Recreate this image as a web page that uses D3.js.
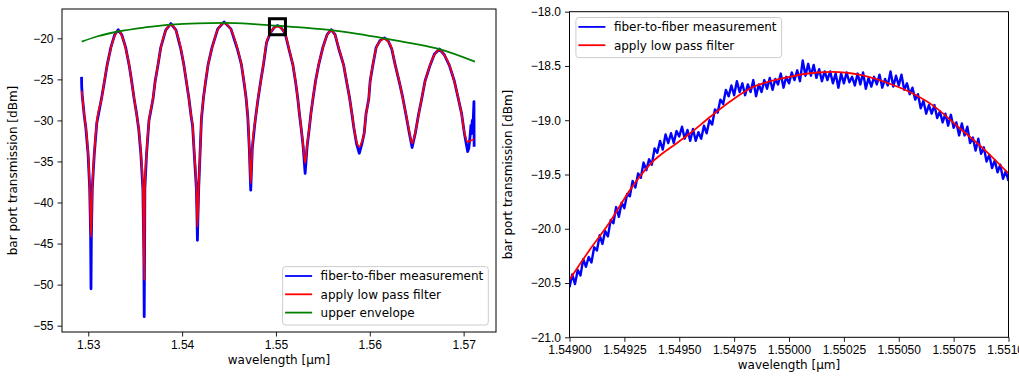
<!DOCTYPE html>
<html>
<head>
<meta charset="utf-8">
<script src="https://cdn.jsdelivr.net/npm/d3@7"></script>
<style>
  body { margin: 0; background: #fff; }
  svg { display: block; font-family: "DejaVu Sans", sans-serif; }
  .tick text { font-size: 12px; fill: #000; }
  .tick line { stroke: #000; stroke-width: 0.9; }
  .label { font-size: 12px; fill: #000; }
</style>
</head>
<body>
<svg id="chart" width="1019" height="377"></svg>
<script>
// left panel: full sweep, [wavelength um, dBm]
const measLeft = [
  [1.52928,-24.7],[1.52930,-25.9],[1.52936,-27.0],[1.52957,-29.4],[1.52974,-30.9],[1.52998,-34.1],[1.53015,-38.3],
  [1.53025,-44.0],[1.53029,-50.5],[1.53033,-44.0],[1.53043,-38.2],[1.53064,-34.1],[1.53091,-30.3],[1.53143,-27.2],
  [1.53170,-25.4],[1.53202,-23.2],[1.53241,-21.1],[1.53280,-19.6],[1.53319,-18.95],[1.53358,-19.6],[1.53398,-21.1],
  [1.53436,-23.3],[1.53462,-25.2],[1.53489,-27.4],[1.53515,-29.2],[1.53538,-31.1],[1.53561,-34.2],[1.53582,-38.4],
  [1.53592,-46.0],[1.53596,-53.9],[1.53600,-46.0],[1.53603,-38.3],[1.53621,-34.1],[1.53647,-30.0],[1.53690,-27.4],
  [1.53713,-25.2],[1.53742,-23.3],[1.53773,-21.1],[1.53825,-19.0],[1.53880,-18.2],[1.53935,-19.0],[1.53986,-21.3],
  [1.54018,-23.2],[1.54047,-25.4],[1.54071,-27.2],[1.54095,-29.4],[1.54112,-30.7],[1.54130,-34.2],[1.54152,-38.3],
  [1.54160,-42.5],[1.54163,-44.6],[1.54167,-42.5],[1.54177,-38.2],[1.54191,-34.1],[1.54206,-29.8],[1.54228,-27.2],
  [1.54249,-25.4],[1.54277,-23.2],[1.54319,-21.1],[1.54380,-18.85],[1.54447,-18.0],[1.54520,-18.85],[1.54589,-21.3],
  [1.54632,-23.2],[1.54660,-25.4],[1.54681,-27.2],[1.54700,-29.6],[1.54716,-33.4],[1.54731,-38.5],[1.54748,-33.4],
  [1.54774,-30.5],[1.54788,-29.2],[1.54809,-27.4],[1.54838,-25.2],[1.54868,-23.1],[1.54900,-20.5],[1.54940,-19.35],
  [1.54980,-18.7],[1.55015,-18.45],[1.55050,-18.65],[1.55080,-19.1],[1.55100,-19.5],[1.55138,-21.3],[1.55180,-23.2],
  [1.55210,-25.4],[1.55231,-27.2],[1.55252,-29.4],[1.55270,-31.1],[1.55290,-33.2],[1.55311,-36.45],[1.55332,-33.2],
  [1.55359,-30.6],[1.55372,-29.2],[1.55394,-27.4],[1.55422,-25.2],[1.55454,-23.3],[1.55500,-21.1],[1.55545,-19.55],
  [1.55589,-18.95],[1.55630,-19.55],[1.55670,-21.3],[1.55720,-23.2],[1.55755,-25.4],[1.55784,-27.2],[1.55812,-29.4],
  [1.55830,-30.9],[1.55860,-32.9],[1.55888,-34.0],[1.55915,-32.9],[1.55940,-31.6],[1.55960,-29.2],[1.55989,-27.4],
  [1.56004,-25.2],[1.56032,-23.3],[1.56068,-21.1],[1.56110,-20.25],[1.56156,-19.95],[1.56195,-20.3],[1.56234,-21.3],
  [1.56270,-23.2],[1.56316,-25.4],[1.56351,-27.2],[1.56387,-29.4],[1.56422,-31.6],[1.56451,-33.3],[1.56486,-31.5],
  [1.56521,-29.2],[1.56553,-27.4],[1.56589,-25.2],[1.56642,-23.3],[1.56688,-21.95],[1.56742,-21.3],[1.56794,-22.0],
  [1.56848,-23.3],[1.56901,-25.2],[1.56944,-27.4],[1.56979,-29.2],[1.57007,-31.5],[1.57043,-33.8],[1.57055,-33.4],
  [1.57068,-32.0],[1.57078,-30.6],[1.57085,-31.6],[1.57092,-30.0],[1.57098,-31.2],[1.57104,-29.5],[1.57110,-27.7],
  [1.57112,-33.2]
];

const filterLeft = [
  [1.52930,-26.4],[1.52957,-29.3],[1.52974,-30.8],[1.52998,-34.0],[1.53015,-38.1],[1.53029,-44.2],[1.53043,-38.1],
  [1.53064,-34.0],[1.53091,-30.2],[1.53143,-27.3],[1.53170,-25.3],[1.53202,-23.25],[1.53241,-21.2],[1.53280,-19.75],
  [1.53319,-19.1],[1.53358,-19.7],[1.53398,-21.2],[1.53436,-23.25],[1.53462,-25.3],[1.53489,-27.3],[1.53515,-29.3],
  [1.53538,-31.0],[1.53561,-34.0],[1.53582,-38.1],[1.53596,-49.4],[1.53603,-38.1],[1.53621,-34.0],[1.53647,-30.1],
  [1.53690,-27.3],[1.53713,-25.3],[1.53742,-23.25],[1.53773,-21.2],[1.53825,-19.1],[1.53880,-18.38],[1.53935,-19.1],
  [1.53986,-21.2],[1.54018,-23.25],[1.54047,-25.3],[1.54071,-27.3],[1.54095,-29.3],[1.54112,-30.6],[1.54130,-34.0],
  [1.54152,-38.1],[1.54163,-42.95],[1.54177,-38.1],[1.54191,-34.0],[1.54206,-29.7],[1.54228,-27.3],[1.54249,-25.3],
  [1.54277,-23.25],[1.54319,-21.2],[1.54380,-18.95],[1.54447,-18.17],[1.54520,-18.95],[1.54589,-21.2],[1.54632,-23.25],
  [1.54660,-25.3],[1.54681,-27.3],[1.54700,-29.5],[1.54716,-33.2],[1.54731,-37.65],[1.54748,-33.2],[1.54774,-30.4],
  [1.54788,-29.3],[1.54809,-27.3],[1.54838,-25.3],[1.54868,-23.0],[1.54900,-20.5],[1.54940,-19.4],[1.54980,-18.72],
  [1.55015,-18.56],[1.55050,-18.70],[1.55080,-19.08],[1.55100,-19.5],[1.55138,-21.2],[1.55180,-23.25],[1.55210,-25.3],
  [1.55231,-27.3],[1.55252,-29.3],[1.55270,-31.0],[1.55290,-33.0],[1.55311,-35.2],[1.55332,-33.0],[1.55359,-30.55],
  [1.55372,-29.3],[1.55394,-27.3],[1.55422,-25.3],[1.55454,-23.25],[1.55500,-21.2],[1.55545,-19.65],[1.55589,-19.1],
  [1.55630,-19.65],[1.55670,-21.2],[1.55720,-23.25],[1.55755,-25.3],[1.55784,-27.3],[1.55812,-29.3],[1.55830,-30.8],
  [1.55860,-32.6],[1.55888,-33.2],[1.55915,-32.6],[1.55940,-31.5],[1.55960,-29.3],[1.55989,-27.3],[1.56004,-25.3],
  [1.56032,-23.25],[1.56068,-21.2],[1.56110,-20.35],[1.56156,-20.08],[1.56195,-20.4],[1.56234,-21.2],[1.56270,-23.25],
  [1.56316,-25.3],[1.56351,-27.3],[1.56387,-29.3],[1.56422,-31.4],[1.56451,-32.8],[1.56486,-31.4],[1.56521,-29.3],
  [1.56553,-27.3],[1.56589,-25.3],[1.56642,-23.25],[1.56688,-22.03],[1.56742,-21.43],[1.56794,-22.03],[1.56848,-23.25],
  [1.56901,-25.3],[1.56944,-27.3],[1.56979,-29.3],[1.57007,-31.4],[1.57043,-32.6],[1.57070,-32.5],[1.57110,-32.3]
];

const envelope = [
  [1.52930,-20.41],[1.53100,-19.75],[1.53319,-19.17],[1.53600,-18.68],[1.53880,-18.33],[1.54160,-18.17],
  [1.54447,-18.13],[1.54730,-18.24],[1.55015,-18.47],[1.55300,-18.70],[1.55589,-19.00],[1.55870,-19.45],
  [1.56156,-20.00],[1.56450,-20.62],[1.56742,-21.32],[1.57120,-22.85]
];

// peak that is shown enlarged on the right
const zoomPoint = [1.55016, -18.59];

// right panel: measurement sampled every 0.0000125 um from 1.549
const measRightStart = 1.549;
const measRightStep = 0.0000125;
const measRight = [
  -20.54,-20.42,-20.51,-20.38,-20.43,-20.28,-20.35,-20.26,-20.31,-20.17,-20.20,-20.06,-20.14,-20.02,-20.07,-19.92,
  -19.95,-19.80,-19.89,-19.76,-19.81,-19.68,-19.70,-19.56,-19.62,-19.49,-19.53,-19.39,-19.46,-19.36,-19.41,-19.26,
  -19.30,-19.19,-19.27,-19.13,-19.21,-19.12,-19.21,-19.10,-19.15,-19.06,-19.17,-19.09,-19.19,-19.08,-19.19,-19.11,
  -19.17,-19.05,-19.12,-19.00,-19.04,-18.90,-18.93,-18.81,-18.85,-18.72,-18.78,-18.68,-18.77,-18.64,-18.74,-18.66,
  -18.77,-18.67,-18.74,-18.63,-18.78,-18.67,-18.74,-18.63,-18.71,-18.61,-18.72,-18.62,-18.67,-18.57,-18.70,-18.60,
  -18.66,-18.56,-18.63,-18.54,-18.64,-18.45,-18.59,-18.48,-18.59,-18.49,-18.61,-18.53,-18.64,-18.55,-18.63,-18.55,
  -18.66,-18.57,-18.70,-18.57,-18.66,-18.56,-18.65,-18.60,-18.68,-18.57,-18.67,-18.56,-18.71,-18.61,-18.69,-18.60,
  -18.67,-18.58,-18.70,-18.62,-18.68,-18.55,-18.69,-18.59,-18.68,-18.58,-18.72,-18.66,-18.76,-18.70,-18.81,-18.76,
  -18.89,-18.82,-18.94,-18.86,-18.94,-18.86,-18.98,-18.92,-19.02,-18.94,-19.05,-18.95,-19.07,-19.02,-19.14,-19.03,
  -19.14,-19.06,-19.21,-19.16,-19.28,-19.17,-19.31,-19.25,-19.38,-19.32,-19.44,-19.37,-19.48,-19.41,-19.54,-19.47,
  -19.56
];

const filterRight = [
  [1.54900,-20.47],[1.54909,-20.20],[1.54918,-19.95],[1.54928,-19.63],[1.54937,-19.40],[1.54949,-19.21],
  [1.54955,-19.12],[1.54964,-18.97],[1.54973,-18.83],[1.54982,-18.71],[1.54998,-18.61],[1.55013,-18.56],
  [1.55020,-18.555],[1.55032,-18.58],[1.55048,-18.68],[1.55055,-18.74],[1.55066,-18.87],[1.55077,-19.06],
  [1.55089,-19.27],[1.55100,-19.49]
];

const leftXTicks = [1.53, 1.54, 1.55, 1.56, 1.57];
const leftYTicks = [-20, -25, -30, -35, -40, -45, -50, -55];
const rightXTicks = [1.549, 1.54925, 1.5495, 1.54975, 1.55, 1.55025, 1.5505, 1.55075, 1.551];
const rightYTicks = [-18, -18.5, -19, -19.5, -20, -20.5, -21];

const labelMeas = "fiber-to-fiber measurement";
const labelFilter = "apply low pass filter";
const labelEnvelope = "upper envelope";

const svg = d3.select("#chart");

function drawPanel(cfg) {
  const g = svg.append("g")
    .attr("transform", "translate(" + cfg.left + "," + cfg.top + ")");

  const x = d3.scaleLinear().domain(cfg.xDomain).range([0, cfg.width]);
  const y = d3.scaleLinear().domain(cfg.yDomain).range([cfg.height, 0]);

  const clipId = "clip-" + cfg.id;
  g.append("clipPath").attr("id", clipId)
    .append("rect").attr("width", cfg.width).attr("height", cfg.height);

  const plot = g.append("g").attr("clip-path", "url(#" + clipId + ")");

  const line = d3.line()
    .x(d => x(d[0]))
    .y(d => y(d[1]));

  cfg.series.forEach(s => {
    // measured traces stay straight segments, smooth ones get a monotone curve
    line.curve(s.curve === false ? d3.curveLinear : d3.curveMonotoneX);
    plot.append("path")
      .datum(s.data)
      .attr("fill", "none")
      .attr("stroke", s.color)
      .attr("stroke-width", s.width)
      .attr("stroke-linejoin", "round")
      .attr("d", line);
  });

  if (cfg.marker) {
    g.append("rect")
      .attr("x", x(cfg.marker[0]) - 8)
      .attr("y", y(cfg.marker[1]) - 8)
      .attr("width", 16)
      .attr("height", 16)
      .attr("fill", "none")
      .attr("stroke", "#000")
      .attr("stroke-width", 3);
  }

  // axes
  const xAxis = d3.axisBottom(x).tickValues(cfg.xTicks).tickFormat(d3.format(cfg.xFormat))
    .tickSizeInner(4.5).tickSizeOuter(0).tickPadding(4);
  const yAxis = d3.axisLeft(y).tickValues(cfg.yTicks).tickFormat(d3.format(cfg.yFormat))
    .tickSizeInner(4.5).tickSizeOuter(0).tickPadding(4);

  g.append("g")
    .attr("transform", "translate(0," + cfg.height + ")")
    .call(xAxis)
    .call(a => a.select(".domain").remove())
    .selectAll("text").attr("font-family", null).attr("font-size", null);

  g.append("g")
    .call(yAxis)
    .call(a => a.select(".domain").remove())
    .selectAll("text").attr("font-family", null).attr("font-size", null);

  g.append("rect")
    .attr("width", cfg.width)
    .attr("height", cfg.height)
    .attr("fill", "none")
    .attr("stroke", "#000")
    .attr("stroke-width", 1);

  g.append("text")
    .attr("class", "label")
    .attr("x", cfg.width / 2)
    .attr("y", cfg.height + 32)
    .attr("text-anchor", "middle")
    .text("wavelength [μm]");

  g.append("text")
    .attr("class", "label")
    .attr("transform", "rotate(-90)")
    .attr("x", -cfg.height / 2)
    .attr("y", -cfg.yLabelOffset)
    .attr("text-anchor", "middle")
    .text("bar port transmission [dBm]");

  // legend
  const items = cfg.series.filter(s => s.label);
  const leg = g.append("g");
  const box = leg.append("rect")
    .attr("rx", 3).attr("ry", 3)
    .attr("fill", "#fff").attr("fill-opacity", 0.8)
    .attr("stroke", "#ccc").attr("stroke-width", 1);
  let textW = 0;
  items.forEach((s, i) => {
    const cy = 9.4 + i * 18.3;
    leg.append("line")
      .attr("x1", 2.5).attr("x2", 29.5)
      .attr("y1", cy).attr("y2", cy)
      .attr("stroke", s.color).attr("stroke-width", 1.8);
    const t = leg.append("text")
      .attr("class", "label")
      .attr("x", 38)
      .attr("y", cy + 4.3)
      .text(s.label);
    textW = Math.max(textW, t.node().getComputedTextLength());
  });
  const boxW = 38 + textW + 5;
  const boxH = items.length * 18.3 + 3.5;
  box.attr("width", boxW).attr("height", boxH);
  if (cfg.legend === "lower right") {
    leg.attr("transform", "translate(" + (cfg.width - 7.7 - boxW) + "," + (cfg.height - 7 - boxH) + ")");
  } else {
    leg.attr("transform", "translate(6.4,5.8)");
  }
}

drawPanel({
  id: "left", left: 62, top: 9, width: 434, height: 323,
  xDomain: [1.52720, 1.57345], yDomain: [-55.77, -16.43],
  xTicks: leftXTicks, yTicks: leftYTicks, xFormat: ".2f", yFormat: "d",
  yLabelOffset: 45, legend: "lower right", marker: zoomPoint,
  series: [
    { data: measLeft, color: "#0000ff", width: 2.8, label: labelMeas, curve: false },
    { data: filterLeft, color: "#ff0000", width: 1.8, label: labelFilter },
    { data: envelope, color: "#008000", width: 1.8, label: labelEnvelope }
  ]
});

const measRightPts = measRight.map((v, i) => [measRightStart + i * measRightStep, v]);

drawPanel({
  id: "right", left: 569.5, top: 11.7, width: 439, height: 325.6,
  xDomain: [1.549, 1.551], yDomain: [-21, -18],
  xTicks: rightXTicks, yTicks: rightYTicks, xFormat: ".5f", yFormat: ".1f",
  yLabelOffset: 58, legend: "upper left",
  series: [
    { data: measRightPts, color: "#0000ff", width: 2.4, label: labelMeas, curve: false },
    { data: filterRight, color: "#ff0000", width: 1.8, label: labelFilter }
  ]
});
</script>
</body>
</html>
